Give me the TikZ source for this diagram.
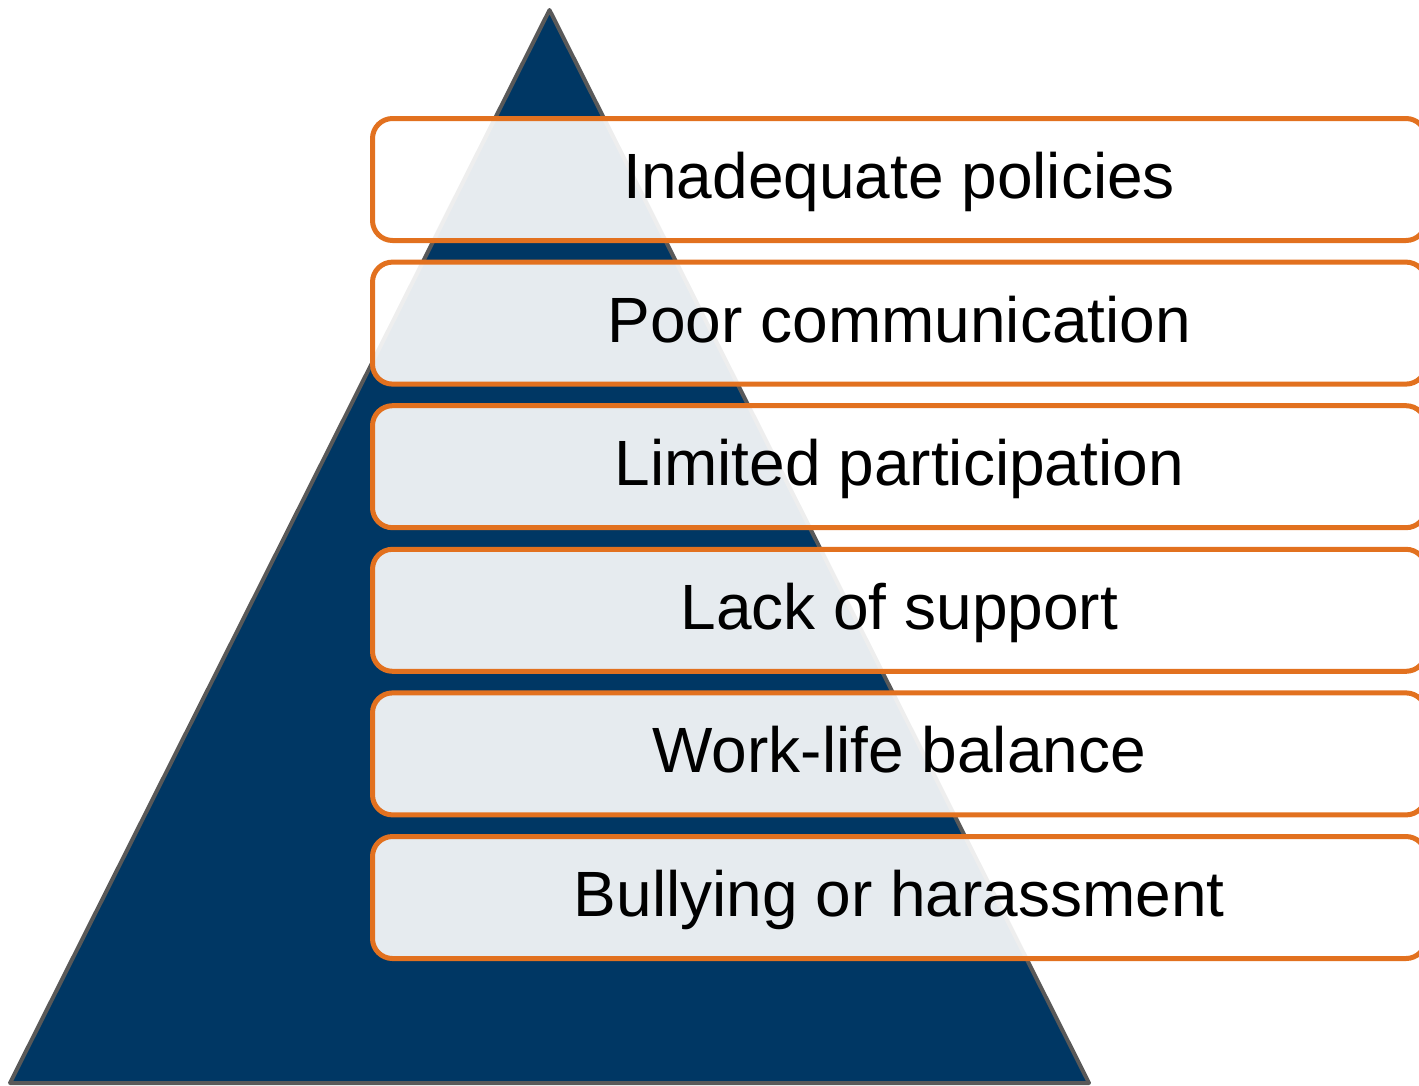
\documentclass[tikz,border=0pt]{standalone}
\usepackage{fontspec}
\setmainfont{Liberation Sans}
\definecolor{navy}{HTML}{003764}
\definecolor{edgegrey}{HTML}{595959}
\definecolor{boxorange}{HTML}{E2711F}
\begin{document}
\begin{tikzpicture}[x=1pt,y=-1pt,
  pyr/.style={fill=navy,draw=edgegrey,line width=4pt,line join=round},
  layerbox/.style={draw=boxorange,line width=5pt,rounded corners=20pt,
    fill=white,fill opacity=0.9,text opacity=1,
    minimum width=1053.5pt,minimum height=122pt,inner sep=0pt,
    text height=38pt,text depth=0pt,
    font=\fontsize{64}{72}\selectfont,text=black}]
\useasboundingbox (0,0) rectangle (1419,1085);
\clip (0,0) rectangle (1419,1085);
\coordinate (apex) at (549.5,10);
\coordinate (bl) at (10,1083);
\coordinate (br) at (1089,1083);
\draw[pyr] (apex) -- (br) -- (bl) -- cycle;
\node[layerbox] (b1) at (899.25,179.5) {Inadequate policies};
\node[layerbox] (b2) at (899.25,323.1) {Poor communication};
\node[layerbox] (b3) at (899.25,466.7) {Limited participation};
\node[layerbox] (b4) at (899.25,610.3) {Lack of support};
\node[layerbox] (b5) at (899.25,753.9) {Work-life balance};
\node[layerbox] (b6) at (899.25,897.5) {Bullying or harassment};
\end{tikzpicture}
\end{document}
